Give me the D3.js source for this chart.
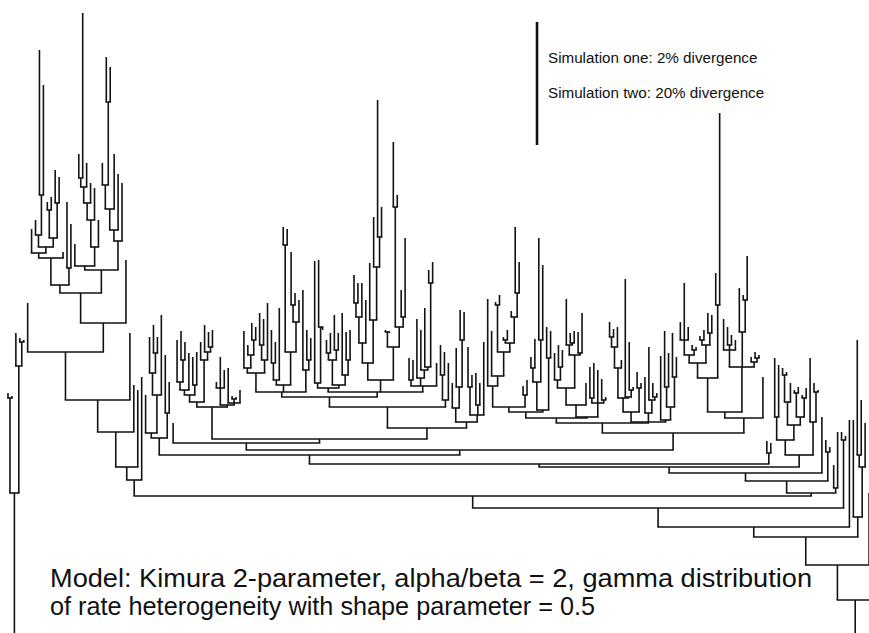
<!DOCTYPE html>
<html>
<head>
<meta charset="utf-8">
<script src="https://cdn.jsdelivr.net/npm/d3@7"></script>
<style>
  body { margin: 0; background: #fff; }
  svg { display: block; }
</style>
</head>
<body>
<div id="chart"></div>
<script>
var screen = {width: 869, height: 633}

// tree data: a leaf is the height of its tip, a node is [height, child, child...]
// heights are read off the picture, 0 = top, 633 = bottom
var outgroup = [493, [398, 393, 396], [366, 333, [342, 338, 340]]]

var leftA = [285, [258, [253, 229, [247, [235, 220, [195, 50, 85]], [238, [210, 202, 197], [203, 170, 177]]]], 252], [268, 202, 224]]
var leftB = [270, [266, 244, [247, [220, [203, [187, [178, 154, 13], 163], 183], 188], 220]],
  [241, [230, [209, [185, 163, [102, 57, 67]], 154], 174], 183]]
var leftClade = [480, [467, [432, [400, [352, 303, [323, [293, leftA, leftB], 260]], 333], 385], 390], 377]

var cladeP = [438, [433, 395, [395, [373, 337, [353, 325, 337]], 315]], [413, 355, 382]]
var cladeT = [407, [402, [395, [390, [382, 340, [360, 331, 342]], 353], [385, 357, 352]],
  [360, 342, [352, 325, [347, 332, 330]]]], [405, [388, 382, 357, 370], [403, 368, [399, 396, 397], 390]]]

var cladeU1 = [392, [373, [368, 331, [355, 345, [340, 323, 327]]], [360, [345, 313, 319], 303]],
  [385, [380, [363, 330, 342], 308], [352, [245, 227, 229], [322, [305, 252, 293], 300]]],
  [370, 290, [360, 330, 338]]]
var cladeU2 = [392, [388, [383, 261, [327, 260, 330]], [385, [360, [353, 340, 333], [350, 315, 333]], [375, 313, [360, 332, 330]]]],
  [380, [363, [343, [317, [303, 275, 283], 283], 300], [320, 263, [267, 217, [237, 100, 207]]]],
    [347, [332, 330, 333], [327, [207, 142, 195], [317, 290, 238]]]],
  [386, [380, 358, 360], [378, 319, [370, 330, [367, 308, [283, 270, 262]]]], 363]]
var cladeU3 = [400, [375, 345, 352], 363]
var cladeU4 = [422, [408, 383, [387, 348, [340, 310, 312]]], [415, [387, 347, 375], [405, 373, 383], 342]]
var cladeU = [428, [407, [397, cladeU1, cladeU2], cladeU3], cladeU4]

var cladeQ1 = [407, [386, 299, [376, 331, [352, [305, 302, 295], [343, [340, 337, 330], [317, 311, [293, 227, 262]]]]]], [395, 386, 380]]
var cladeQ2 = [410, [382, [368, 357, 339], [340, 238, 265]], [358, 327, 331]]
var cladeQ3 = [417, [405, [388, [380, 353, [367, 345, 350]], [355, [345, 299, [343, 333, 331]], [353, 332, 313]]], 383],
  [403, [398, 367, 363], 370, [400, 379, 397]]]
var cladeQ4 = [412, [398, [368, [347, [337, 322, 329], 327], 360], [397, 279, [390, 342, 387]]], [388, 372, 383]]
var cladeQ5 = [413, 377, [400, 347, [397, 383, 393]]]
var cladeQ6 = [420, 356, [407, [387, 331, 353], [377, 333, 357]]]
var cladeQ7 = [412, [378, [363, [355, [340, 322, 283, 327], [350, 345, 347]], [345, [340, 336, 330], [333, 313, 315]]], [305, 273, 113]],
  [367, [350, 319, [345, 327, 335], 340], [332, 288, [300, 295, 256]], [362, 357, [358, 352, 355]]]]
var cladeR = [433, [423, [418, [412, cladeQ1, cladeQ2], cladeQ3], [422, cladeQ4, cladeQ5, cladeQ6]], [418, cladeQ7, 377]]

var cladeX = [453, 441, 443]
var cladeY = [455, [440, [417, 358, 365], [425, [402, [375, 368, 372], 383], [417, [393, 390, 387], [398, 395, 388]]]],
  [422, 358, [392, 383, 390]]]
var fork823 = [452, 440, 447]
var pair831 = [488, 465, 432]
var eRight = [440, 432, 436]
var cRight = [517, 420, [467, [455, 340, 400], 423]]

var tree = [700, outgroup,
  [600, [565, [537, [527, [508, [496, leftClade,
    [493, [481, [473, [467, [464, [455, cladeP, [450, [443, 423, [439, cladeT, cladeU]], cladeR]], cladeX], cladeY], 417], fork823], pair831]],
    eRight], 420], cRight], 493], 520]]

var legendLines = ["Simulation one: 2% divergence", "Simulation two: 20% divergence"]
var modelLines = ["Model: Kimura 2-parameter, alpha/beta = 2, gamma distribution",
  "of rate heterogeneity with shape parameter = 0.5"]
var modelWidths = [762, 545]

function toNode(a) {
  if (Array.isArray(a)) return {h: a[0], children: a.slice(1).map(toNode)}
  return {h: a}
}

var root = d3.hierarchy(toNode(tree))
// even leaf spacing, with a wider gap before the branch that leaves the frame
d3.cluster()
  .size([1000, 1])
  .separation(function(a, b) { return b.depth < 3 ? 2 : 1 })(root)
var leaves = root.leaves()

// scale
var xScale = d3.scaleLinear()
  .domain(d3.extent(leaves, function(d) { return d.x }))
  .range([8, 873])
var yScale = d3.scaleLinear()
  .domain([0, 633])
  .range([0, 633])

var svg = d3.select("#chart").append("svg")
  .attr("width", screen.width)
  .attr("height", screen.height)

var g = svg.append("g")
  .style("stroke", "#121212")
  .style("stroke-width", 1.6)
  .style("fill", "none")

// vertical branches
g.selectAll("line.v")
  .data(root.descendants().filter(function(d) { return d.parent }))
  .enter().append("line")
  .attr("class", "v")
  .attr("x1", function(d) { return xScale(d.x) })
  .attr("x2", function(d) { return xScale(d.x) })
  .attr("y1", function(d) { return yScale(d.data.h) })
  .attr("y2", function(d) { return yScale(d.parent.data.h) })

// horizontal connectors
g.selectAll("line.h")
  .data(root.descendants().filter(function(d) { return d.children }))
  .enter().append("line")
  .attr("class", "h")
  .attr("x1", function(d) { return xScale(d.children[0].x) - 0.8 })
  .attr("x2", function(d) { return xScale(d.children[d.children.length - 1].x) + 0.8 })
  .attr("y1", function(d) { return yScale(d.data.h) })
  .attr("y2", function(d) { return yScale(d.data.h) })

// scale bar + legend
svg.append("line")
  .attr("x1", 537).attr("x2", 537)
  .attr("y1", 22).attr("y2", 145)
  .style("stroke", "#111")
  .style("stroke-width", 2.6)

svg.selectAll("text.legend")
  .data(legendLines)
  .enter().append("text")
  .attr("class", "legend")
  .attr("x", 548)
  .attr("y", function(d, i) { return 63 + i * 35 })
  .style("font-family", "'Liberation Sans', Arial, Helvetica, sans-serif")
  .style("font-size", "15.2px")
  .style("fill", "#111")
  .text(function(d) { return d })

svg.selectAll("text.model")
  .data(modelLines)
  .enter().append("text")
  .attr("class", "model")
  .attr("x", 50)
  .attr("y", function(d, i) { return 587 + i * 28 })
  .attr("textLength", function(d, i) { return modelWidths[i] })
  .attr("lengthAdjust", "spacingAndGlyphs")
  .style("font-family", "'Liberation Sans', Arial, Helvetica, sans-serif")
  .style("font-size", "25px")
  .style("fill", "#111")
  .text(function(d) { return d })
</script>
</body>
</html>
